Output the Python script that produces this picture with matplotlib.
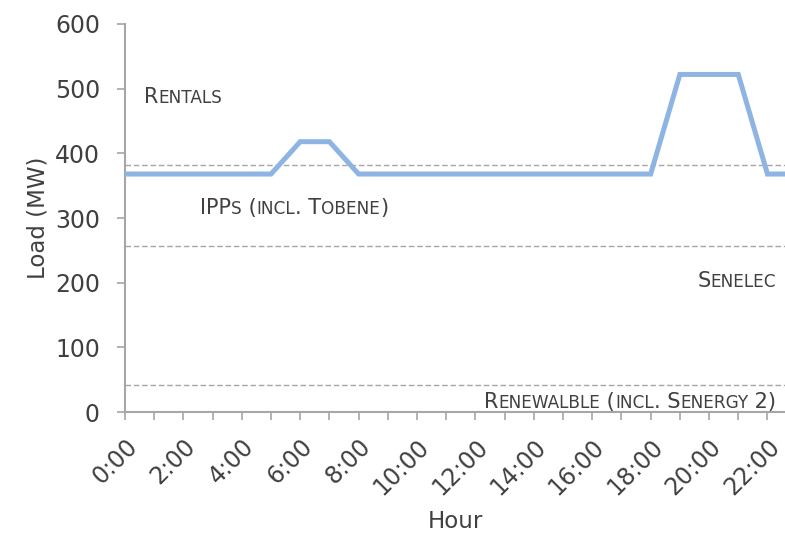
import numpy as np
import matplotlib
matplotlib.use("Agg")
import matplotlib.pyplot as plt

# Data
hours = list(range(24))
load_mw = [368, 368, 368, 368, 368, 368, 418, 418, 368, 368, 368, 368,
           368, 368, 368, 368, 368, 368, 368, 522, 522, 522, 368, 368]
hour_labels = [f"{h}:00" if h % 2 == 0 else "" for h in hours]

# stacked capacity levels (dashed lines)
levels = [382, 256, 42]
level_names = ["Rentals", "IPPs (incl. Tobene)", "Senelec", "Renewalble (incl. Senergy 2)"]

TXT = "#404040"
GRID = "#A6A6A6"
plt.rcParams['font.family'] = ['DejaVu Sans']

fig = plt.figure(figsize=(7.85, 5.34), dpi=100)
ax = fig.add_axes([125 / 785, 1 - 412 / 534, 1 - 125 / 785, (412 - 24) / 534])

ax.plot(hours, load_mw, color="#8DB4E2", linewidth=3.6, solid_joinstyle="miter", zorder=3)
for lv in levels:
    ax.axhline(lv, color=GRID, linestyle=(0, (4, 2)), linewidth=1.0, zorder=2)

ax.set_yticks(range(0, 601, 100))
ax.set_xticks(hours)
ax.set_xticklabels(hour_labels, rotation=45, ha="right", rotation_mode="anchor")
ax.set_xlim(0, 22.6)
ax.set_ylim(0, 600)

for s in ["top", "right"]:
    ax.spines[s].set_visible(False)
for s in ["left", "bottom"]:
    ax.spines[s].set_color(GRID)
    ax.spines[s].set_linewidth(1.5)
ax.tick_params(axis="both", direction="out", length=6, width=1.2, color=GRID,
               labelcolor=TXT, labelsize=17)
ax.tick_params(axis="y", pad=12)
ax.tick_params(axis="x", pad=10)

ax.set_ylabel("Load (MW)", fontsize=16.5, color=TXT, labelpad=3.5)
ax.set_xlabel("Hour", fontsize=16.5, color=TXT, labelpad=7.5)


def runs(s):
    # split into (text, small?) pieces to mimic small caps
    out = []
    for ch in s:
        small = ch.islower()
        if out and out[-1][1] == small:
            out[-1][0] += ch.upper()
        else:
            out.append([ch.upper(), small])
    return out


def smallcaps(x, y, s, align="left", big=15, small=12.2):
    pieces = runs(s)
    kw = dict(color=TXT)
    if align == "left":
        t0, sm = pieces[0]
        prev = ax.text(x, y, t0, fontsize=small if sm else big, ha="left", va="baseline", **kw)
        for t, sm in pieces[1:]:
            prev = ax.annotate(t, xy=(1, 0), xycoords=prev, ha="left", va="bottom",
                               fontsize=small if sm else big, **kw)
    else:
        t0, sm = pieces[-1]
        prev = ax.text(x, y, t0, fontsize=small if sm else big, ha="right", va="baseline", **kw)
        for t, sm in reversed(pieces[:-1]):
            prev = ax.annotate(t, xy=(0, 0), xycoords=prev, ha="right", va="bottom",
                               fontsize=small if sm else big, **kw)


smallcaps(0.65, 478, level_names[0])
smallcaps(2.57, 306, level_names[1])
smallcaps(22.3, 193, level_names[2], align="right")
smallcaps(22.3, 6, level_names[3], align="right")

fig.savefig("out.png", dpi=100)
